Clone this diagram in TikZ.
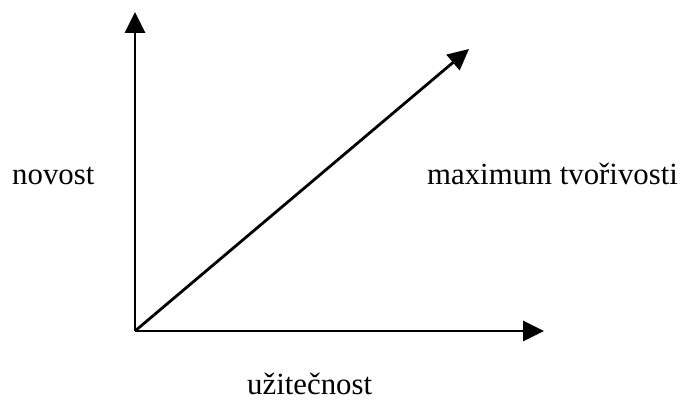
\documentclass[tikz,border=0pt]{standalone}
\usepackage{fontspec}
\setmainfont{Liberation Serif}
\usetikzlibrary{arrows.meta}
\begin{document}
\begin{tikzpicture}[x=1pt,y=-1pt,
  axis/.style={line width=2.8pt,-{Triangle[length=21pt,width=20pt]}},
  lbl/.style={font=\fontsize{30.8}{36}\selectfont,anchor=base,inner sep=0pt}]
\useasboundingbox (0,0) rectangle (683,403);
\coordinate (O) at (135,331);
\coordinate (Y) at (135,12);
\coordinate (X) at (544,331);
\coordinate (D) at (469,49);
\draw[axis] (O) -- (Y);
\draw[axis] (O) -- (X);
\draw[axis] (O) -- (D);
\node[lbl,anchor=base west] (nov) at (12,185) {novost};
\node[lbl,anchor=base west] (max) at (427,185) {maximum tvořivosti};
\node[lbl,anchor=base west] (uz) at (247,395) {užitečnost};
\end{tikzpicture}
\end{document}
